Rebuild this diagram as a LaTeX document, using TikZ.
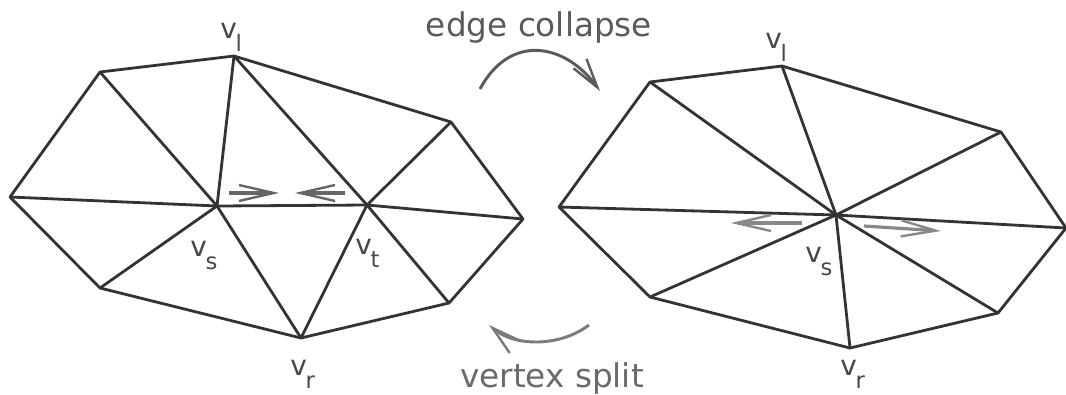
\documentclass[tikz,border=0pt]{standalone}
\usepackage{fontspec}
\setmainfont{DejaVu Sans}
\usetikzlibrary{arrows.meta}
\definecolor{MeshLine}{HTML}{333333}
\definecolor{CaptionGray}{HTML}{5A5A5A}
\definecolor{SplitGray}{HTML}{6A6A6A}
\definecolor{MoveDark}{HTML}{666666}
\definecolor{MoveLight}{HTML}{888888}
\newcommand{\vlabel}[1]{v\kern-1pt\raisebox{-10pt}{\fontsize{17}{18}\selectfont #1}}
\tikzset{
  meshedge/.style={draw=MeshLine, line width=2.1pt, line join=round},
  vertexlabel/.style={text=MeshLine!90, font=\fontsize{21}{23}\selectfont, inner sep=0pt, anchor=base west},
  caption/.style={font=\fontsize{24.5}{26}\selectfont, inner sep=0pt},
  movearrow/.style={line width=2.4pt, -{Straight Barb[length=26pt,width=12pt,line width=1.8pt]}},
  turnarrow/.style={line width=2.2pt, -{Straight Barb[length=22pt,width=12pt,line width=1.8pt]}}
}
\begin{document}
\begin{tikzpicture}[x=0.75pt,y=-0.75pt]
    \useasboundingbox (0,0) rectangle (1066,394);
    % left mesh
    \foreach \name/\px/\py in {la/100/72,lvl/234/56,lc/451/122,ld/523/219,le/449/303,lvr/301/338,lf/100/288,lg/10/197,lvs/217/206,lvt/367/205}
      \coordinate (\name) at (\px,\py);
    \draw[meshedge] (la) -- (lvl) -- (lc) -- (ld) -- (le) -- (lvr) -- (lf) -- (lg) -- cycle;
    \foreach \from/\to in {lg/lvs,la/lvs,lvl/lvs,lvl/lvt,lc/lvt,ld/lvt,le/lvt,lvr/lvt,lvr/lvs,lf/lvs,lvs/lvt}
      \draw[meshedge] (\from) -- (\to);
    % right mesh
    \foreach \name/\px/\py in {ra/650/82,rvl/782/66,rc/1001/132,rd/1066/228,re/998/313,rvr/850/348,rf/650/297,rg/559/207,rvs/836/215}
      \coordinate (\name) at (\px,\py);
    \draw[meshedge] (ra) -- (rvl) -- (rc) -- (rd) -- (re) -- (rvr) -- (rf) -- (rg) -- cycle;
    \foreach \to in {ra,rvl,rc,rd,re,rvr,rf,rg}
      \draw[meshedge] (rvs) -- (\to);
    % labels
    \node[vertexlabel] (lvllabel) at (220,38) {\vlabel{l}};
    \node[vertexlabel] (lvslabel) at (190,256) {\vlabel{s}};
    \node[vertexlabel] (lvtlabel) at (355,254) {\vlabel{t}};
    \node[vertexlabel] (lvrlabel) at (290,375) {\vlabel{r}};
    \node[vertexlabel] (rvllabel) at (765,48) {\vlabel{l}};
    \node[vertexlabel] (rvslabel) at (805,262) {\vlabel{s}};
    \node[vertexlabel] (rvrlabel) at (840,375) {\vlabel{r}};
    \node[caption, text=CaptionGray] (collapse) at (539,27) {edge collapse};
    \node[caption, text=SplitGray] (split) at (552,378) {vertex split};
    % small arrows
    \coordinate (lmovea) at (229,193);
    \coordinate (lmoveb) at (279,193);
    \coordinate (lmovec) at (345,193);
    \coordinate (lmoved) at (295,193);
    \coordinate (rmovea) at (802,223);
    \coordinate (rmoveb) at (731,223);
    \coordinate (rmovec) at (864,226);
    \coordinate (rmoved) at (941,231);
    \draw[movearrow, draw=MoveDark] (lmovea) -- (lmoveb);
    \draw[movearrow, draw=MoveDark] (lmovec) -- (lmoved);
    \draw[movearrow, draw=MoveLight] (rmovea) -- (rmoveb);
    \draw[movearrow, draw=MoveLight] (rmovec) -- (rmoved);
    % curved arrows
    \coordinate (collapsefrom) at (480,89);
    \coordinate (collapseto) at (600,91);
    \coordinate (splitfrom) at (589,325);
    \coordinate (splitto) at (489,325);
    \draw[turnarrow, draw=CaptionGray] (collapsefrom) .. controls (510,33) and (565,43) .. (collapseto);
    \draw[turnarrow, draw=MoveLight!90!black] (splitfrom) .. controls (560,347) and (515,347) .. (splitto);
  \end{tikzpicture}
\end{document}
